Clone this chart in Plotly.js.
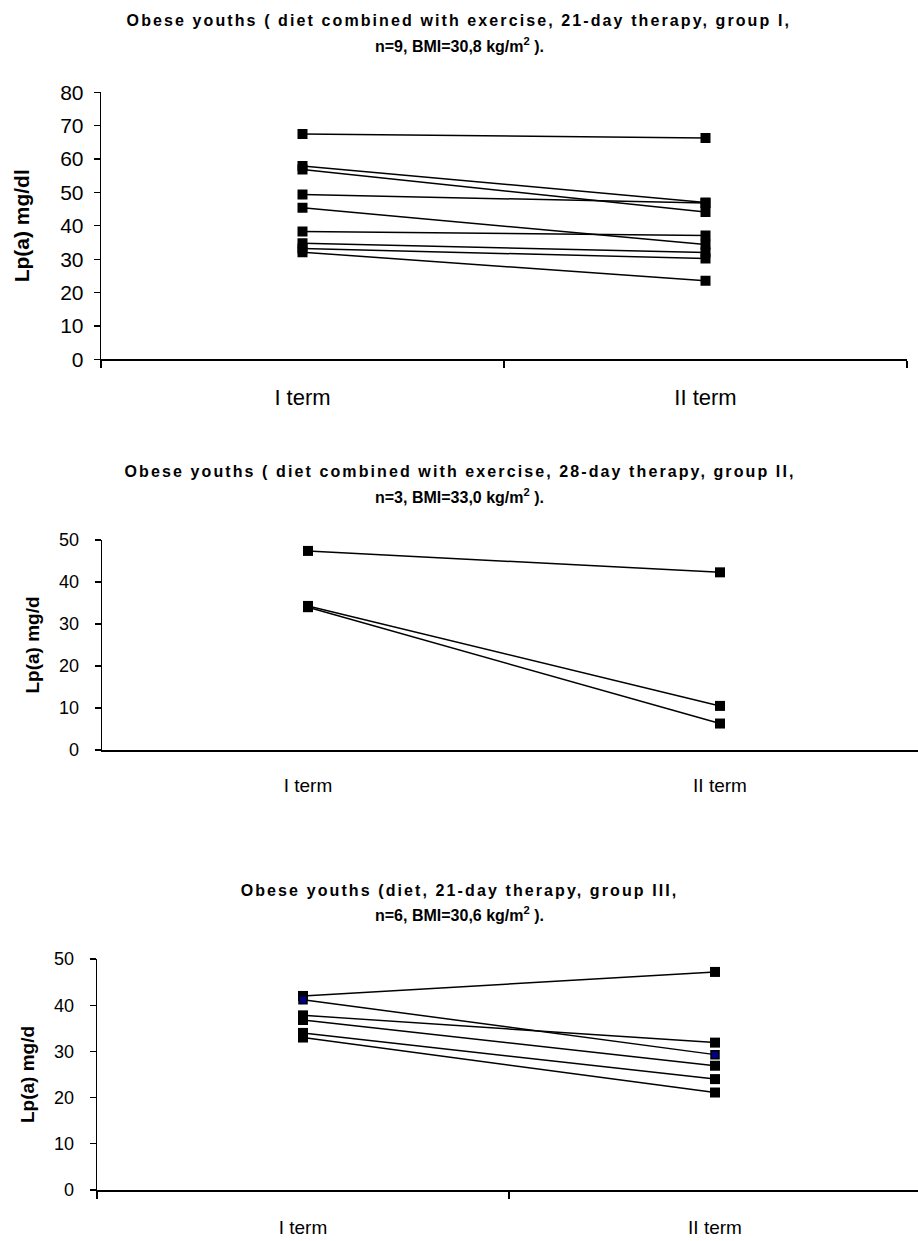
<!DOCTYPE html>
<html>
<head>
<meta charset="utf-8">
<script src="https://cdn.plot.ly/plotly-3.0.1.min.js"></script>
<style>html,body{margin:0;padding:0;background:#fff}#chart{width:918px;height:1241px}</style>
</head>
<body>
<div id="chart"></div>
<script>
// ---- data ----
const terms = ["I term", "II term"];
const g1_term1 = [67.5, 57.9, 56.9, 49.4, 45.4, 38.3, 34.8, 33.2, 32.1];
const g1_term2 = [66.3, 47.0, 44.1, 46.8, 34.4, 37.1, 32.0, 30.2, 23.5];
const g2_term1 = [47.4, 34.3, 34.0];
const g2_term2 = [42.3, 10.5, 6.3];
const g3_term1 = [42.0, 41.2, 37.8, 36.8, 34.0, 33.0];
const g3_term2 = [47.2, 29.3, 31.9, 26.9, 24.0, 21.1];
const g3_markerColors = ["#000000", "#000080", "#000000", "#000000", "#000000", "#000000"];

const titleLine1 = [
  "Obese youths ( diet combined with exercise, 21-day therapy, group I,",
  "Obese youths ( diet combined with exercise, 28-day therapy, group II,",
  "Obese youths (diet, 21-day therapy, group III,"
];
const titleLine2 = [
  "n=9, BMI=30,8 kg/m<sup>2</sup> ).",
  "n=3, BMI=33,0 kg/m<sup>2</sup> ).",
  "n=6, BMI=30,6 kg/m<sup>2</sup> )."
];
const yTitles = ["Lp(a) mg/dl", "Lp(a) mg/d", "Lp(a) mg/d"];

const FONT = "Liberation Sans, Arial, sans-serif";
const W = 918, H = 1241;

const traces = [];
function addGroup(t1, t2, xa, ya, colors) {
  for (let i = 0; i < t1.length; i++) {
    const navy = colors && colors[i] !== "#000000";
    traces.push({
      type: "scatter", mode: "lines+markers",
      x: terms, y: [t1[i], t2[i]],
      xaxis: xa, yaxis: ya,
      line: {color: "#000", width: 1.5},
      marker: {symbol: "square", size: navy ? 8 : 10, color: colors ? colors[i] : "#000",
               line: {color: "#000", width: navy ? 1.5 : 0}},
      showlegend: false, hoverinfo: "x+y"
    });
  }
}
addGroup(g1_term1, g1_term2, "x", "y");
addGroup(g2_term1, g2_term2, "x2", "y2");
addGroup(g3_term1, g3_term2, "x3", "y3", g3_markerColors);

function xd(a, b) { return [a / W, Math.min(1, b / W)]; }
function yd(top, bottom) { return [1 - bottom / H, 1 - top / H]; }

const baseY = {
  showgrid: false, zeroline: false, showline: true, linecolor: "#000", linewidth: 1.3,
  ticks: "outside", ticklen: 6, tickcolor: "#000", tickwidth: 1.3,
  fixedrange: true
};
const baseX = {
  type: "category", showgrid: false, zeroline: false, showline: true,
  linecolor: "#000", linewidth: 1.6, tickcolor: "#000", tickwidth: 1.3,
  fixedrange: true
};

const titleFont = {size: 16, family: FONT, weight: "bold", color: "#000"};
const annos = [];
const line1Y = [21, 472, 890], line2Y = [45, 496, 914], titleX = [459, 460, 459];
for (let i = 0; i < 3; i++) {
  annos.push({text: titleLine1[i], x: titleX[i] / W, y: 1 - line1Y[i] / H});
  annos.push({text: titleLine2[i], x: titleX[i] / W, y: 1 - line2Y[i] / H});
}

const layout = {
  width: W, height: H,
  margin: {l: 0, r: 0, t: 0, b: 0},
  paper_bgcolor: "#fff", plot_bgcolor: "#fff",
  font: {family: FONT, color: "#000"},
  xaxis: Object.assign({}, baseX, {
    domain: xd(101, 907), anchor: "y", range: [-0.5, 1.5],
    ticks: "outside", tickson: "boundaries", ticklen: 7,
    tickfont: {size: 22, family: FONT}, ticklabelstandoff: 18
  }),
  yaxis: Object.assign({}, baseY, {
    domain: yd(92.3, 359.3), anchor: "x", range: [0, 80], dtick: 10,
    tickfont: {size: 21, family: FONT}, ticklabelstandoff: 6,
    title: {text: yTitles[0], font: {size: 21, family: FONT, weight: "bold"}, standoff: 24}
  }),
  xaxis2: Object.assign({}, baseX, {
    domain: xd(102, 918), anchor: "y2", range: [-0.5, -0.5 + 816 / 412],
    ticks: "", tickfont: {size: 19, family: FONT}, ticklabelstandoff: 18
  }),
  yaxis2: Object.assign({}, baseY, {
    domain: yd(540, 750), anchor: "x2", range: [0, 50], dtick: 10,
    tickfont: {size: 18, family: FONT}, ticklabelstandoff: 12,
    title: {text: yTitles[1], font: {size: 19, family: FONT, weight: "bold"}, standoff: 14}
  }),
  xaxis3: Object.assign({}, baseX, {
    domain: xd(97, 918), anchor: "y3", range: [-0.5, -0.5 + 821 / 412],
    ticks: "outside", tickson: "boundaries", ticklen: 7,
    tickfont: {size: 19, family: FONT}, ticklabelstandoff: 20
  }),
  yaxis3: Object.assign({}, baseY, {
    domain: yd(959, 1190), anchor: "x3", range: [0, 50], dtick: 10,
    tickfont: {size: 18, family: FONT}, ticklabelstandoff: 12,
    title: {text: yTitles[2], font: {size: 19, family: FONT, weight: "bold"}, standoff: 14}
  }),
  annotations: annos.map(a => Object.assign({
    xref: "paper", yref: "paper", xanchor: "center", yanchor: "middle",
    showarrow: false, align: "center", font: titleFont
  }, a))
};

Plotly.newPlot("chart", traces, layout, {displayModeBar: false, staticPlot: true}).then(gd => {
  // the first title line of each chart is set with wider letter spacing, as in the reference
  [0, 2, 4].forEach(idx => {
    const t = gd.querySelector('.annotation[data-index="' + idx + '"] .annotation-text');
    if (t) t.style.letterSpacing = "2.1px";
  });
});
</script>
</body>
</html>
